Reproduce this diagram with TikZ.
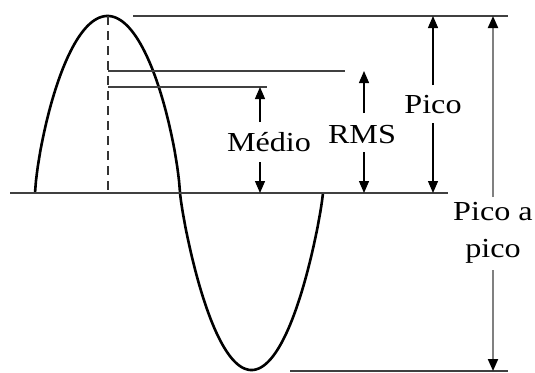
\documentclass[tikz,border=0pt]{standalone}
\usepackage{fontspec}
\setmainfont[FakeStretch=1.17]{Liberation Serif}
\usetikzlibrary{arrows.meta}
\tikzset{
  wave/.style={line width=2.6pt, black, line join=round},
  hline/.style={line width=1.6pt, black!75},
  arr/.style={line width=1.3pt, black, -{Triangle[length=12pt,width=10pt]}},
  parr/.style={line width=2pt, black!50, -{Triangle[length=12pt,width=10pt,black]}},
  lbl/.style={font=\fontsize{27.5}{33}\selectfont, inner sep=0pt, anchor=base},
}
\begin{document}
\begin{tikzpicture}[x=1pt,y=-1pt]
\useasboundingbox (0,0) rectangle (535,372);
% named points
\coordinate (peak) at (108,16);
\coordinate (base0) at (10,193);
\coordinate (base1) at (448,193);
\coordinate (top0) at (133,16);
\coordinate (top1) at (508,16);
\coordinate (rms0) at (108,71);
\coordinate (rms1) at (345,71);
\coordinate (med0) at (108,87);
\coordinate (med1) at (267,87);
\coordinate (bot0) at (290,371);
\coordinate (bot1) at (508,371);
\coordinate (dashbot) at (108,193);
% waveform
\draw[wave] plot[domain=-1:1, samples=161] ({107.5+72.5*\x}, {193-177*(max(1-\x*\x,0.000001)^0.74)})
   -- plot[domain=-1:1, samples=161] ({251.5+71.5*\x}, {193+177*(max(1-\x*\x,0.000001)^0.86)});
% horizontal reference lines
\draw[hline] (base0) -- (base1);
\draw[hline] (top0) -- (top1);
\draw[hline] (rms0) -- (rms1);
\draw[hline] (med0) -- (med1);
\draw[hline] (bot0) -- (bot1);
\draw[line width=1.6pt, black!80, dash pattern=on 9pt off 6pt] (peak) -- (dashbot);
% labels
\node[lbl] (medlab) at (269,151) {Médio};
\node[lbl] (rmslab) at (362,143) {RMS};
\node[lbl] (picolab) at (433,113) {Pico};
\node[lbl] (pplab1) at (493,220) {Pico a};
\node[lbl] (pplab2) at (493,257) {pico};
% arrow end points
\coordinate (mtA) at (260,122); \coordinate (mtB) at (260,87);
\coordinate (mbA) at (260,162); \coordinate (mbB) at (260,193);
\coordinate (rtA) at (364,113); \coordinate (rtB) at (364,71);
\coordinate (rbA) at (364,152); \coordinate (rbB) at (364,193);
\coordinate (ptA) at (433,85);  \coordinate (ptB) at (433,16);
\coordinate (pbA) at (433,123); \coordinate (pbB) at (433,193);
\coordinate (qtA) at (493,197); \coordinate (qtB) at (493,16);
\coordinate (qbA) at (493,270); \coordinate (qbB) at (493,371);
\draw[arr] (mtA) -- (mtB);
\draw[arr] (mbA) -- (mbB);
\draw[arr] (rtA) -- (rtB);
\draw[arr] (rbA) -- (rbB);
\draw[arr] (ptA) -- (ptB);
\draw[arr] (pbA) -- (pbB);
\draw[parr] (qtA) -- (qtB);
\draw[parr] (qbA) -- (qbB);
\end{tikzpicture}
\end{document}
